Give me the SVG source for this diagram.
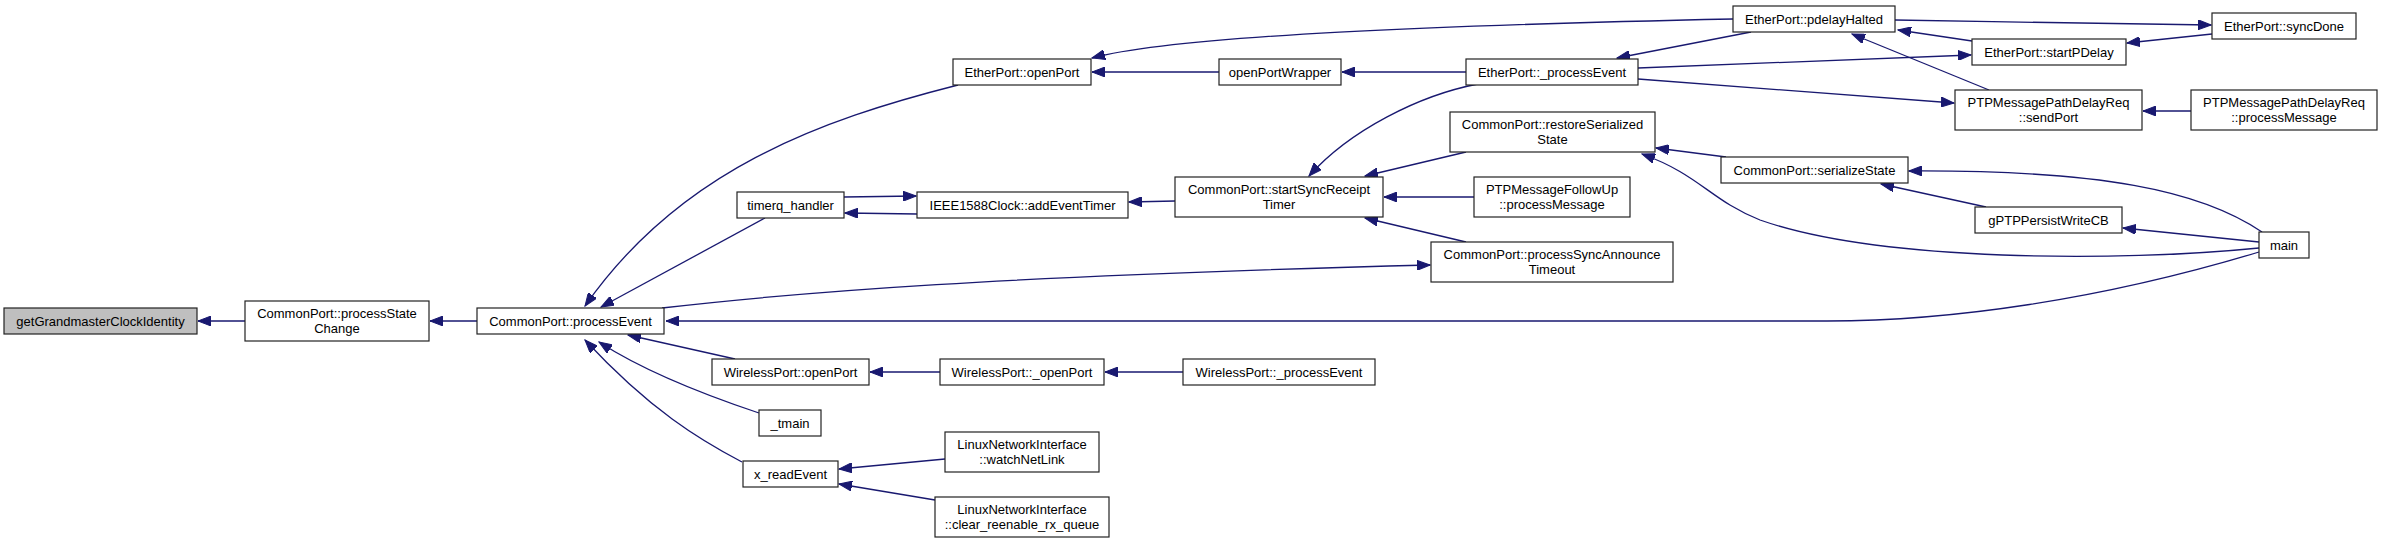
<svg xmlns="http://www.w3.org/2000/svg" width="2383" height="543" viewBox="0 0 2383 543">
<style>
.n rect{fill:#fff;stroke:#222;stroke-width:1.2}
.n.g rect{fill:#bfbfbf}
.n text{font-family:"Liberation Sans",Arial,sans-serif;font-size:13px;fill:#000;text-anchor:middle}
.e path{fill:none;stroke:#191970;stroke-width:1.3;marker-end:url(#a)}
</style>
<defs>
<marker id="a" markerUnits="userSpaceOnUse" markerWidth="14" markerHeight="10" refX="13" refY="5" orient="auto">
<path d="M0,0 L13,5 L0,10 z" fill="#191970" stroke="#191970" stroke-width="1"/>
</marker>
</defs>
<rect width="2383" height="543" fill="#fff"/>
<g id="edges" class="e">
<path d="M245,321 L198,321"/>
<path d="M477,321 L430,321"/>
<path d="M958,85 C820,120 680,170 585,306"/>
<path d="M765,218 L601,307"/>
<path d="M662,308 C800,292 1000,276 1430,265"/>
<path d="M2259,252 C2100,300 1950,321 1827,321 L666,321"/>
<path d="M735,359 L628,335"/>
<path d="M759,413 C720,400 650,375 599,342"/>
<path d="M742,462 C700,440 650,410 585,340"/>
<path d="M940,372 L870,372"/>
<path d="M1183,372 L1105,372"/>
<path d="M945,459 L839,469"/>
<path d="M935,500 L839,484"/>
<path d="M1219,72 L1092,72"/>
<path d="M1466,72 L1342,72"/>
<path d="M1733,19 C1450,25 1180,35 1092,58"/>
<path d="M1751,32 L1617,58"/>
<path d="M1895,20 C2000,22 2100,23 2211,25"/>
<path d="M1972,41 L1898,30"/>
<path d="M2212,34 L2127,43"/>
<path d="M1638,68 L1971,55"/>
<path d="M1638,79 L1954,103"/>
<path d="M1989,90 L1852,34"/>
<path d="M2191,111 L2143,111"/>
<path d="M1478,84 C1420,95 1350,130 1309,176"/>
<path d="M1466,152 L1365,176"/>
<path d="M1474,197 L1384,197"/>
<path d="M1466,242 L1365,218"/>
<path d="M1175,201 L1129,202"/>
<path d="M844,197 L916,196"/>
<path d="M917,214 L845,213"/>
<path d="M1726,157 L1656,148"/>
<path d="M2259,248 C2120,262 1880,262 1760,220 C1710,200 1700,175 1642,154"/>
<path d="M2262,232 C2200,190 2100,170 1909,171"/>
<path d="M1986,207 L1881,184"/>
<path d="M2259,242 L2123,228"/>
</g>
<g id="n1" class="n g"><rect x="4" y="308" width="193" height="26"/><text x="100.5" y="325.5">getGrandmasterClockIdentity</text></g>
<g id="n2" class="n"><rect x="245" y="301" width="184" height="40"/><text x="337" y="317.5">CommonPort::processState</text><text x="337" y="332.5">Change</text></g>
<g id="n3" class="n"><rect x="477" y="308" width="187" height="26"/><text x="570.5" y="325.5">CommonPort::processEvent</text></g>
<g id="n4" class="n"><rect x="953" y="59" width="138" height="26"/><text x="1022" y="76.5">EtherPort::openPort</text></g>
<g id="n5" class="n"><rect x="1219" y="59" width="122" height="26"/><text x="1280" y="76.5">openPortWrapper</text></g>
<g id="n6" class="n"><rect x="1466" y="59" width="172" height="26"/><text x="1552" y="76.5">EtherPort::_processEvent</text></g>
<g id="n7" class="n"><rect x="1733" y="6" width="162" height="26"/><text x="1814" y="23.5">EtherPort::pdelayHalted</text></g>
<g id="n8" class="n"><rect x="2212" y="13" width="144" height="26"/><text x="2284" y="30.5">EtherPort::syncDone</text></g>
<g id="n9" class="n"><rect x="1972" y="39" width="154" height="26"/><text x="2049" y="56.5">EtherPort::startPDelay</text></g>
<g id="n10" class="n"><rect x="1955" y="90" width="187" height="40"/><text x="2048.5" y="106.5">PTPMessagePathDelayReq</text><text x="2048.5" y="121.5">::sendPort</text></g>
<g id="n11" class="n"><rect x="2191" y="90" width="186" height="40"/><text x="2284" y="106.5">PTPMessagePathDelayReq</text><text x="2284" y="121.5">::processMessage</text></g>
<g id="n12" class="n"><rect x="1450" y="112" width="205" height="40"/><text x="1552.5" y="128.5">CommonPort::restoreSerialized</text><text x="1552.5" y="143.5">State</text></g>
<g id="n13" class="n"><rect x="1721" y="157" width="187" height="26"/><text x="1814.5" y="174.5">CommonPort::serializeState</text></g>
<g id="n14" class="n"><rect x="1474" y="177" width="156" height="40"/><text x="1552" y="193.5">PTPMessageFollowUp</text><text x="1552" y="208.5">::processMessage</text></g>
<g id="n15" class="n"><rect x="1431" y="242" width="242" height="40"/><text x="1552" y="258.5">CommonPort::processSyncAnnounce</text><text x="1552" y="273.5">Timeout</text></g>
<g id="n16" class="n"><rect x="1975" y="207" width="147" height="26"/><text x="2048.5" y="224.5">gPTPPersistWriteCB</text></g>
<g id="n17" class="n"><rect x="2259" y="232" width="50" height="26"/><text x="2284" y="249.5">main</text></g>
<g id="n18" class="n"><rect x="737" y="192" width="107" height="26"/><text x="790.5" y="209.5">timerq_handler</text></g>
<g id="n19" class="n"><rect x="917" y="192" width="211" height="26"/><text x="1022.5" y="209.5">IEEE1588Clock::addEventTimer</text></g>
<g id="n20" class="n"><rect x="1175" y="177" width="208" height="40"/><text x="1279" y="193.5">CommonPort::startSyncReceipt</text><text x="1279" y="208.5">Timer</text></g>
<g id="n21" class="n"><rect x="712" y="359" width="157" height="26"/><text x="790.5" y="376.5">WirelessPort::openPort</text></g>
<g id="n22" class="n"><rect x="940" y="359" width="164" height="26"/><text x="1022" y="376.5">WirelessPort::_openPort</text></g>
<g id="n23" class="n"><rect x="1183" y="359" width="192" height="26"/><text x="1279" y="376.5">WirelessPort::_processEvent</text></g>
<g id="n24" class="n"><rect x="759" y="410" width="62" height="26"/><text x="790" y="427.5">_tmain</text></g>
<g id="n25" class="n"><rect x="743" y="461" width="95" height="26"/><text x="790.5" y="478.5">x_readEvent</text></g>
<g id="n26" class="n"><rect x="945" y="432" width="154" height="40"/><text x="1022" y="448.5">LinuxNetworkInterface</text><text x="1022" y="463.5">::watchNetLink</text></g>
<g id="n27" class="n"><rect x="935" y="497" width="174" height="40"/><text x="1022" y="513.5">LinuxNetworkInterface</text><text x="1022" y="528.5">::clear_reenable_rx_queue</text></g>
</svg>
